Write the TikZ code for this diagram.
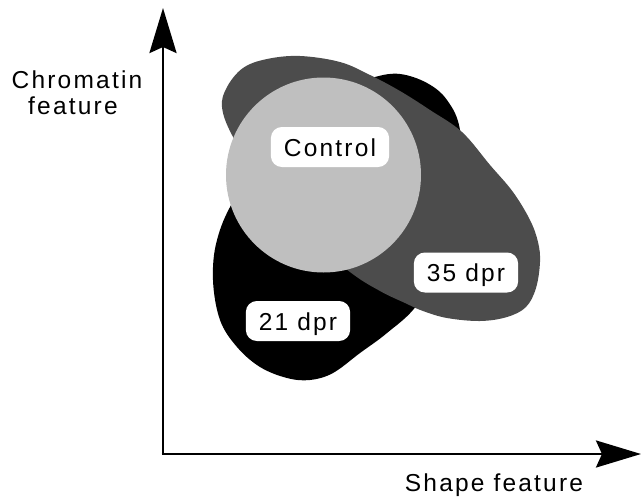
\documentclass[tikz,border=0pt]{standalone}
\usepackage{fontspec}
\usetikzlibrary{arrows.meta}
\newfontfamily\labfont{Liberation Sans}[LetterSpace=9]
\begin{document}
\begin{tikzpicture}[x=1pt,y=-1pt,
  lbltext/.style={font=\labfont\fontsize{24.5}{28}\selectfont, inner sep=0pt},
  lblbox/.style={font=\labfont\fontsize{24.5}{28}\selectfont, fill=white, rounded corners=11pt,
     inner xsep=13pt, inner ysep=11pt, text height=18pt, text depth=0pt},
  axis/.style={line width=2.7pt, -{Stealth[length=45pt,width=27pt,inset=6pt]}},
  darkgray/.style={fill=black!70},
  lightgray/.style={fill=black!25}]
\useasboundingbox (0,0) rectangle (641,499);
% 21 dpr (black)
\fill[black] plot[smooth cycle, tension=0.6] coordinates {
 (213,280) (220,320) (237,347) (260,367) (287,378) (310,380) (333,373) (360,353)
 (387,333) (417,305) (445,255) (462,190) (460,130) (447,100) (427,83) (400,74)
 (375,77) (340,90) (280,130) (235,198) (217,240)};
% 35 dpr (dark gray)
\fill[darkgray] plot[smooth cycle, tension=0.6] coordinates {
 (222,107) (227,87) (243,68) (267,59) (300,56) (340,62) (370,75) (400,91)
 (430,110) (462,132) (490,165) (513,192) (530,220) (538,242) (540,262) (536,288)
 (526,307) (507,317) (480,321) (447,318) (423,311) (405,303) (380,291) (350,272)
 (300,230) (260,180) (232,135)};
% Control (light gray)
\fill[lightgray] (323.5,175) circle[radius=97.5pt];
% labels
\node[lblbox] (ctrl) at (330,147) {Control};
\node[lblbox] (d35) at (466,272.5) {35 dpr};
\node[lblbox] (d21) at (298,321) {21 dpr};
% axes
\coordinate (origin) at (163,454);
\coordinate (ytip) at (163,8);
\coordinate (xtip) at (641,454);
\draw[axis] (origin) -- (ytip);
\draw[axis] ([xshift=-1.35pt]origin) -- (xtip);
\node[lbltext, anchor=base] (ylab1) at (77,88) {Chromatin};
\node[lbltext, anchor=base] (ylab2) at (73,114.5) {feature};
\node[lbltext, anchor=base] (xlab) at (494,491) {Shape feature};
\end{tikzpicture}
\end{document}
